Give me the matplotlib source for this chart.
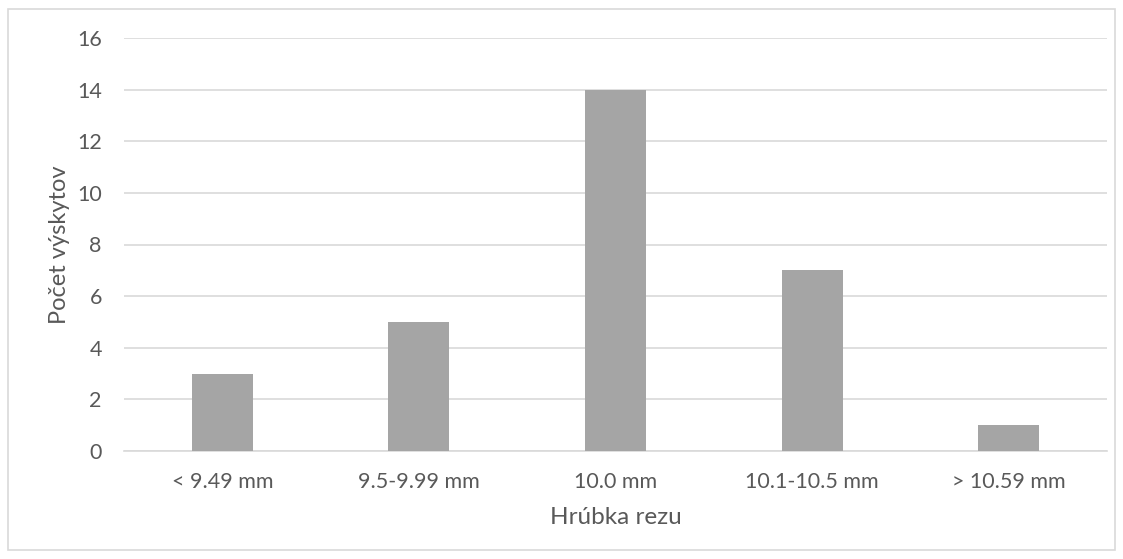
import matplotlib
matplotlib.use("Agg")
import matplotlib.pyplot as plt
from matplotlib.patches import Rectangle

categories = ["< 9.49 mm", "9.5-9.99 mm", "10.0 mm", "10.1-10.5 mm", "> 10.59 mm"]
counts = [3, 5, 14, 7, 1]
yticks = [0, 2, 4, 6, 8, 10, 12, 14, 16]

plt.rcParams['font.family'] = ['Lato', 'DejaVu Sans']
text_color = '#595959'

fig = plt.figure(figsize=(11.23, 5.59), dpi=100)
fig.patches.append(Rectangle((8/1123, 9/559), 1107/1123, 541/559, transform=fig.transFigure,
                             fill=False, edgecolor='#D9D9D9', linewidth=1.2))
ax = fig.add_axes([124/1123, 1 - 451/559, (1107 - 124)/1123, (451 - 38)/559])

x = list(range(len(categories)))
ax.bar(x, counts, width=0.31, color='#A5A5A5', zorder=3)
ax.set_xlim(-0.5, len(categories) - 0.5)
ax.set_ylim(0, 16)
ax.set_yticks(yticks)
ax.set_xticks(x)
ax.set_xticklabels(categories)
ax.grid(axis='y', color='#D9D9D9', linewidth=1.2, zorder=0)
for s in ['top', 'right', 'left']:
    ax.spines[s].set_visible(False)
ax.spines['bottom'].set_color('#D9D9D9')
ax.spines['bottom'].set_linewidth(1.2)
ax.tick_params(axis='both', length=0, labelsize=15.5, colors=text_color)
ax.tick_params(axis='x', pad=15)
ax.tick_params(axis='y', pad=16)
ax.set_xlabel("Hrúbka rezu", fontsize=17.5, color=text_color, labelpad=11)
ax.set_ylabel("Počet výskytov", fontsize=17, color=text_color, labelpad=5)

fig.savefig("out.png", dpi=100)
